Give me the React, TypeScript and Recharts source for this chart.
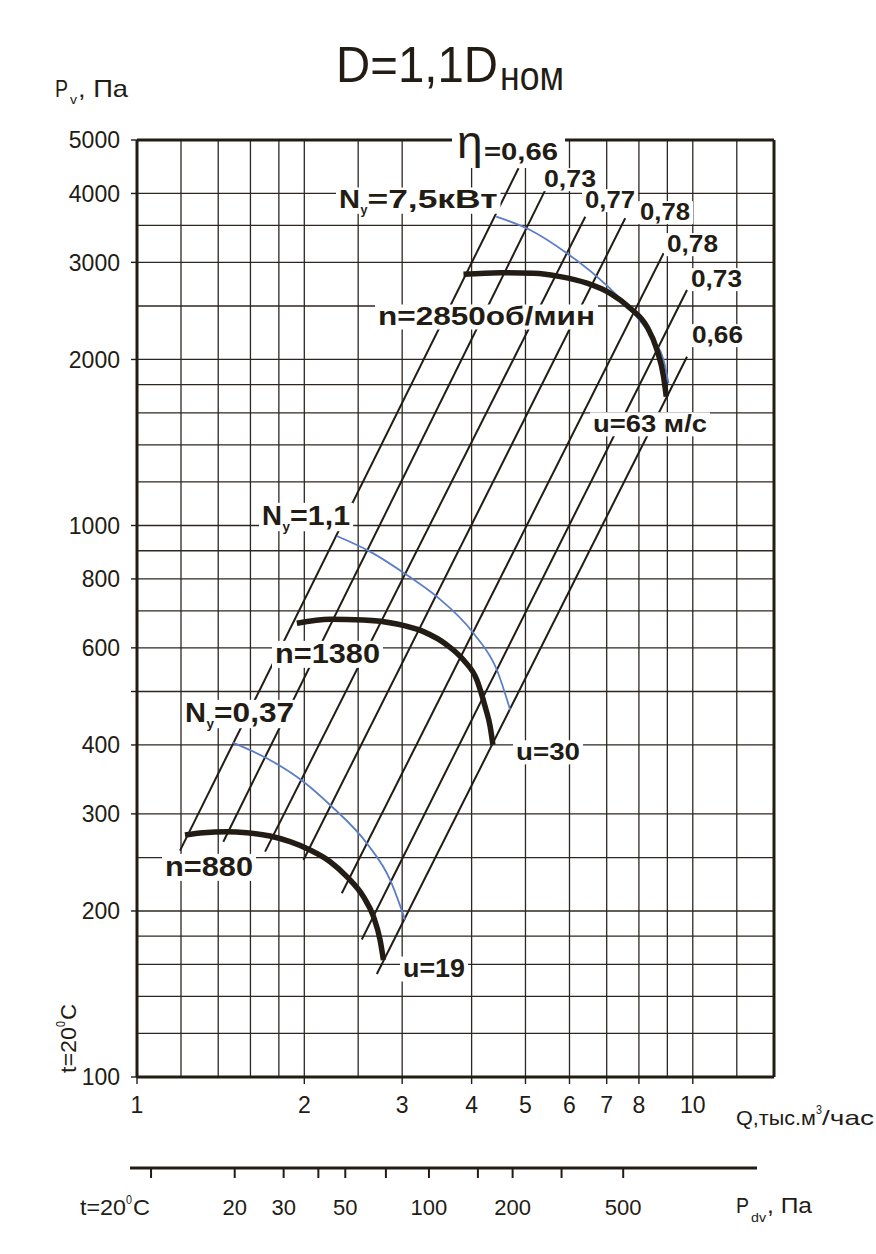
import React from 'react';
import { LineChart, Line, XAxis, YAxis, ReferenceLine } from 'recharts';

const W = 876;
const H = 1254;
const INK = '#221c15';
const GRID = '#2c2722';
const BLUE = '#5b7ec6';
const FONT = "'Liberation Sans', Arial, sans-serif";

// ---- axes: Q (thousand m3/h) vs Pv (Pa), both logarithmic ----
const Q_DOMAIN: [number, number] = [1, 14];
const P_DOMAIN: [number, number] = [100, 5000];
const Q_TICKS = [1, 2, 3, 4, 5, 6, 7, 8, 10];
const Q_GRID = [1.2, 1.4, 1.6, 1.8, 2, 2.5, 3, 4, 5, 6, 7, 8, 9, 10, 12];
const P_TICKS = [100, 200, 300, 400, 500, 600, 800, 1000, 2000, 3000, 4000, 5000];
const P_TICK_LABELS = [100, 200, 300, 400, 600, 800, 1000, 2000, 3000, 4000, 5000];
const P_GRID = [120, 140, 160, 180, 200, 250, 300, 400, 500, 600, 700, 800, 900, 1000,
  1200, 1400, 1600, 1800, 2000, 2500, 3000, 3500, 4000];

// dynamic pressure scale (Pa) under the chart
const PDV_DOMAIN: [number, number] = [8.4, 1515];
const PDV_TICKS = [10, 20, 30, 40, 50, 70, 100, 150, 200, 300, 500];
const PDV_TICK_LABELS = [20, 30, 50, 100, 200, 500];

// ---- pressure curves at rotor speed n (rpm) ----
const n880 = [
  { q: 1.22, p: 274.7 }, { q: 1.316, p: 277.3 }, { q: 1.45, p: 278.5 }, { q: 1.576, p: 277.3 },
  { q: 1.735, p: 273.5 }, { q: 1.885, p: 267.1 }, { q: 2.048, p: 258.0 }, { q: 2.226, p: 245.7 },
  { q: 2.385, p: 230.8 }, { q: 2.555, p: 212.3 }, { q: 2.664, p: 195.3 }, { q: 2.738, p: 177.1 },
  { q: 2.776, p: 163.0 },
];
const n1380 = [
  { q: 1.939, p: 664.9 }, { q: 2.226, p: 676 }, { q: 2.555, p: 674.2 }, { q: 2.935, p: 662.9 },
  { q: 3.277, p: 642 }, { q: 3.611, p: 607.3 }, { q: 3.868, p: 570.2 }, { q: 4.088, p: 524.7 },
  { q: 4.231, p: 469.2 }, { q: 4.32, p: 431.7 }, { q: 4.369, p: 400 },
];
const n2850 = [
  { q: 3.868, p: 2854 }, { q: 4.503, p: 2873 }, { q: 5.17, p: 2866 }, { q: 5.774, p: 2826 },
  { q: 6.45, p: 2750 }, { q: 7.105, p: 2636 }, { q: 7.719, p: 2477 }, { q: 8.272, p: 2293 },
  { q: 8.623, p: 2081 }, { q: 8.86, p: 1862 }, { q: 8.96, p: 1712 },
];

// ---- installed power curves Ny (kW) ----
const power037 = [
  { q: 1.487, p: 403.9 }, { q: 1.712, p: 378.4 }, { q: 1.993, p: 343.1 }, { q: 2.226, p: 311.3 },
  { q: 2.591, p: 265.3 }, { q: 2.854, p: 227.7 }, { q: 3.037, p: 192.6 },
];
const power11 = [
  { q: 2.288, p: 957.2 }, { q: 2.627, p: 896.7 }, { q: 3.059, p: 813.3 }, { q: 3.464, p: 742.9 },
  { q: 4.031, p: 637.7 }, { q: 4.442, p: 547 }, { q: 4.694, p: 462.9 },
];
const power75 = [
  { q: 4.43, p: 3631 }, { q: 5.099, p: 3434 }, { q: 5.936, p: 3116 }, { q: 6.723, p: 2826 },
  { q: 7.823, p: 2426 }, { q: 8.5, p: 2170 }, { q: 8.86, p: 1996 }, { q: 9.046, p: 1810 },
];

// ---- efficiency rays (start and end points) ----
const ETA_LINES = [
  [{ q: 1.195, p: 257.3 }, { q: 4.858, p: 4444 }],
  [{ q: 1.43, p: 267.1 }, { q: 5.465, p: 4115 }],
  [{ q: 1.7, p: 256.2 }, { q: 6.406, p: 3630 }],
  [{ q: 1.993, p: 247.4 }, { q: 7.558, p: 3606 }],
  [{ q: 2.336, p: 215.3 }, { q: 8.86, p: 3116 }],
  [{ q: 2.538, p: 177.6 }, { q: 9.763, p: 2673 }],
  [{ q: 2.701, p: 153.7 }, { q: 9.763, p: 2023 }],
];

type TagProps = { x: number; y: number; w: number; size: number; text: string; bold?: boolean };

// text with a white backing box; x = left edge, y = baseline
function Tag({ x, y, w, size, text, bold = true }: TagProps) {
  return (
    <g>
      <rect x={x - 3} y={y - size * 0.82} width={w + 6} height={size * 1.0} fill="#fff" />
      <text x={x} y={y} fontSize={size} fontWeight={bold ? 700 : 400} fill={INK} fontFamily={FONT}
        textLength={w} lengthAdjust="spacingAndGlyphs">{text}</text>
    </g>
  );
}

function PlainText({ x, y, w, size, text, bold = false, anchor = 'start' }: TagProps & { anchor?: string }) {
  return (
    <text x={x} y={y} fontSize={size} fontWeight={bold ? 700 : 400} fill={INK} fontFamily={FONT}
      textLength={w} lengthAdjust="spacingAndGlyphs" textAnchor={anchor as any}>{text}</text>
  );
}

// "N" with subscript "y" followed by a value
function PowerTag({ x, y, size, wN, rest, wRest }: { x: number; y: number; size: number; wN: number; rest: string; wRest: number }) {
  const subW = size * 0.3;
  const total = wN + subW + wRest;
  return (
    <g>
      <rect x={x - 3} y={y - size * 0.82} width={total + 6} height={size * 1.05} fill="#fff" />
      <text x={x} y={y} fontSize={size} fontWeight={700} fill={INK} fontFamily={FONT}
        textLength={wN} lengthAdjust="spacingAndGlyphs">N</text>
      <text x={x + wN + 0.5} y={y + size * 0.22} fontSize={size * 0.5} fontWeight={700} fill={INK} fontFamily={FONT}>y</text>
      <text x={x + wN + subW} y={y} fontSize={size} fontWeight={700} fill={INK} fontFamily={FONT}
        textLength={wRest} lengthAdjust="spacingAndGlyphs">{rest}</text>
    </g>
  );
}

const axisTick = { fontSize: 23, fill: INK, fontFamily: FONT };
const PDV_LINE_Y = 1168;

export default function App() {
  return (
    <div style={{ position: 'absolute', left: 0, top: 0, width: W, height: H, background: '#fff' }}>
      <div style={{ position: 'absolute', left: 0, top: 0 }}>
        <LineChart width={W} height={H} margin={{ top: 140, right: 102, bottom: 137, left: 0 }}>
          <XAxis dataKey="q" type="number" scale="log" domain={Q_DOMAIN} allowDataOverflow
            ticks={Q_TICKS} interval={0} height={40} tickSize={7} tickMargin={13}
            axisLine={{ stroke: INK, strokeWidth: 3 }} tickLine={{ stroke: INK, strokeWidth: 1.4 }}
            tick={axisTick} />
          <YAxis type="number" scale="log" domain={P_DOMAIN} allowDataOverflow
            ticks={P_TICKS} interval={0} width={137} tickSize={6} tickMargin={11}
            tickFormatter={(v: number) => (P_TICK_LABELS.includes(v) ? String(v) : '')}
            axisLine={{ stroke: INK, strokeWidth: 3 }} tickLine={{ stroke: INK, strokeWidth: 1.4 }}
            tick={axisTick} />
          {Q_GRID.map((v) => (
            <ReferenceLine key={'gq' + v} x={v} stroke={GRID} strokeWidth={1.3} />
          ))}
          {P_GRID.map((v) => (
            <ReferenceLine key={'gp' + v} y={v} stroke={GRID} strokeWidth={1.3} />
          ))}
          <ReferenceLine y={P_DOMAIN[1]} stroke={INK} strokeWidth={3} />
          <ReferenceLine x={Q_DOMAIN[1]} stroke={INK} strokeWidth={3} />

          {ETA_LINES.map((seg, i) => (
            <Line key={'eta' + i} data={seg} dataKey="p" type="linear" stroke={INK} strokeWidth={2}
              dot={false} isAnimationActive={false} />
          ))}
          {[power037, power11, power75].map((d, i) => (
            <Line key={'pw' + i} data={d} dataKey="p" type="monotone" stroke={BLUE} strokeWidth={1.8}
              dot={false} isAnimationActive={false} />
          ))}
          {[n880, n1380, n2850].map((d, i) => (
            <Line key={'n' + i} data={d} dataKey="p" type="monotone" stroke={INK} strokeWidth={5.5}
              dot={false} isAnimationActive={false} />
          ))}
        </LineChart>
      </div>

      <div style={{ position: 'absolute', left: 0, top: PDV_LINE_Y - 20 }}>
        <LineChart width={W} height={80} margin={{ top: 0, right: 119, bottom: 0, left: 130 }}>
          <XAxis dataKey="pdv" type="number" scale="log" domain={PDV_DOMAIN} allowDataOverflow
            ticks={PDV_TICKS} interval={0} height={60} tickSize={10} tickMargin={21}
            tickFormatter={(v: number) => (PDV_TICK_LABELS.includes(v) ? String(v) : '')}
            axisLine={{ stroke: INK, strokeWidth: 3 }} tickLine={{ stroke: INK, strokeWidth: 2 }}
            tick={{ fontSize: 22, fill: INK, fontFamily: FONT }} />
          <YAxis hide domain={[0, 1]} />
        </LineChart>
      </div>

      <svg width={W} height={H} style={{ position: 'absolute', left: 0, top: 0, pointerEvents: 'none' }}>
        {/* title */}
        <PlainText x={336} y={82} w={162} size={50} text="D=1,1D" />
        <PlainText x={500} y={90} w={64} size={40} text="ном" />
        {/* axis names */}
        <PlainText x={55} y={97} w={13} size={24} text="P" />
        <PlainText x={70} y={104} w={7} size={13} text="v" />
        <PlainText x={78} y={97} w={50} size={24} text=", Па" />
        <PlainText x={736} y={1125} w={80} size={21} text="Q,тыс.м" />
        <PlainText x={816} y={1114} w={6} size={12} text="3" />
        <PlainText x={822} y={1125} w={52} size={21} text="/час" />
        <PlainText x={736} y={1213} w={13} size={22} text="P" />
        <PlainText x={751} y={1222} w={15} size={13} text="dv" />
        <PlainText x={767} y={1213} w={45} size={22} text=", Па" />
        <PlainText x={80} y={1215} w={46} size={22} text="t=20" />
        <PlainText x={126} y={1204} w={6} size={12} text="0" />
        <PlainText x={133} y={1215} w={17} size={22} text="C" />
        <g transform="rotate(-90 76 1073)">
          <PlainText x={76} y={1073} w={46} size={22} text="t=20" />
          <PlainText x={122} y={1062} w={6} size={12} text="0" />
          <PlainText x={129} y={1073} w={16} size={22} text="C" />
        </g>

        {/* efficiency labels */}
        <rect x={452} y={127} width={113} height={41} fill="#fff" />
        <text x={457} y={158} fontSize={46} fill={INK} fontFamily={FONT}>η</text>
        <PlainText x={484} y={160} w={74} size={24} bold text="=0,66" />
        <Tag x={544} y={187} w={52} size={23} text="0,73" />
        <Tag x={585} y={208} w={50} size={23} text="0,77" />
        <Tag x={640} y={220} w={50} size={23} text="0,78" />
        <Tag x={667} y={252} w={51} size={23} text="0,78" />
        <Tag x={691} y={287} w={51} size={23} text="0,73" />
        <Tag x={692} y={343} w={51} size={23} text="0,66" />

        {/* power labels */}
        <PowerTag x={339} y={208} size={25} wN={21} rest="=7,5кВт" wRest={130} />
        <PowerTag x={262} y={525} size={27} wN={20} rest="=1,1" wRest={60} />
        <PowerTag x={185} y={722} size={27} wN={21} rest="=0,37" wRest={80} />

        {/* speed labels */}
        <Tag x={378} y={325} w={217} size={25} text="n=2850об/мин" />
        <Tag x={275} y={663} w={105} size={27} text="n=1380" />
        <Tag x={165} y={876} w={88} size={27} text="n=880" />

        {/* tip speed labels */}
        <Tag x={593} y={432} w={114} size={24} text="u=63 м/с" />
        <Tag x={516} y={760} w={64} size={24} text="u=30" />
        <Tag x={403} y={977} w={62} size={25} text="u=19" />
      </svg>
    </div>
  );
}
